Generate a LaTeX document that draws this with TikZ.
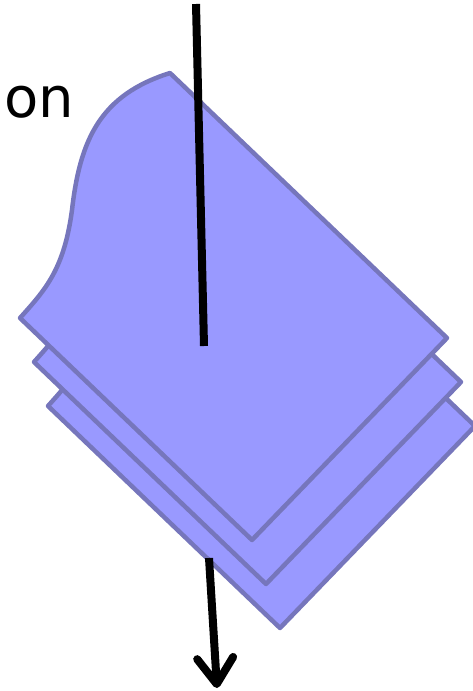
\documentclass[tikz,border=0pt]{standalone}
\usepackage{fontspec}
\setsansfont{DejaVu Sans}
\usetikzlibrary{arrows.meta,positioning}
\definecolor{docfill}{HTML}{9999FF}
\definecolor{docline}{HTML}{7676BC}

\begin{document}
\begin{tikzpicture}[
    x=1pt,y=-1pt,
    >={Straight Barb[length=26pt,width=36pt,round]},
    page/.style={fill=docfill,draw=docline,line width=4.5pt,line join=round},
    flow/.style={line width=8pt}
]
\useasboundingbox (0,0) rectangle (472,691);

% stacked pages, back to front
\foreach \d in {2,1,0}{
  \draw[page,shift={(14*\d,44*\d)}]
    (20,318) .. controls (45,290) and (64,270) .. (72,210)
             .. controls (80,140) and (100,95) .. (170,73)
    -- (447,338) -- (252,540) -- cycle;
}

% label
\node[anchor=base west,inner sep=0pt,font=\sffamily\fontsize{56}{60}\selectfont] (lbl) at (4,117) {on};

% flow in and out
\coordinate (inTop) at (196,4);
\coordinate (inEnd) at (204,346);
\coordinate (outTop) at (209,558);
\coordinate (outEnd) at (217,688);

\draw[flow] (inTop) -- (inEnd);
\draw[flow,->] (outTop) -- (outEnd);

\end{tikzpicture}
\end{document}
